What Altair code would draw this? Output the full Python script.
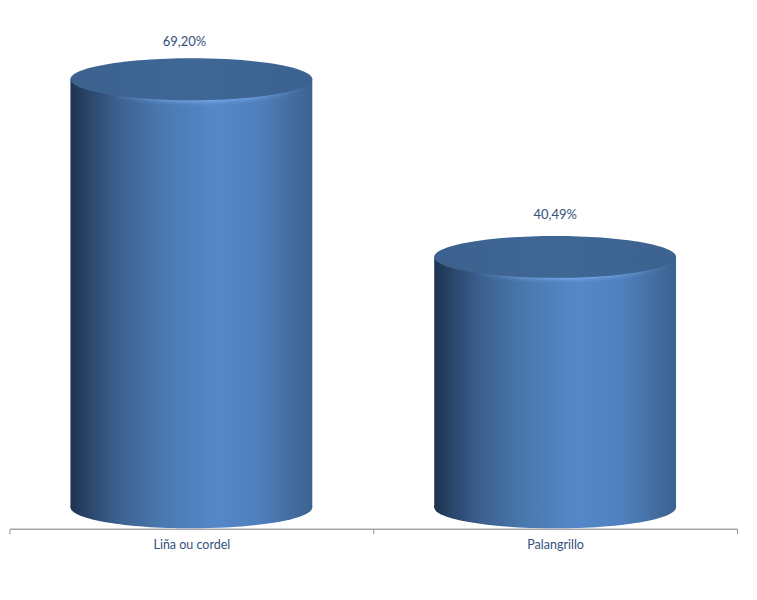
import altair as alt
import pandas as pd

categories = ["Liña ou cordel", "Palangrillo"]
values = [69.20, 40.49]
labels = ["69,20%", "40,49%"]

df = pd.DataFrame({"cat": categories, "val": values, "label": labels, "base": [0, 0]})

BODY = alt.Gradient(
    gradient="linear", x1=0, x2=1, y1=0, y2=0,
    stops=[
        alt.GradientStop(color="#1d3350", offset=0),
        alt.GradientStop(color="#2a4569", offset=0.07),
        alt.GradientStop(color="#3c6190", offset=0.2),
        alt.GradientStop(color="#4a79b0", offset=0.38),
        alt.GradientStop(color="#5588c9", offset=0.6),
        alt.GradientStop(color="#4f80bd", offset=0.78),
        alt.GradientStop(color="#436c9f", offset=0.92),
        alt.GradientStop(color="#3c6290", offset=1),
    ],
)


def glow_fill(alpha):
    return alt.Gradient(
        gradient="linear", x1=0, x2=1, y1=0, y2=0,
        stops=[
            alt.GradientStop(color="rgba(125,175,240,0)", offset=0.15),
            alt.GradientStop(color=f"rgba(125,175,240,{alpha})", offset=0.58),
            alt.GradientStop(color="rgba(125,175,240,0)", offset=0.98),
        ],
    )


TOP = alt.Gradient(
    gradient="linear", x1=0, x2=1, y1=0, y2=0,
    stops=[
        alt.GradientStop(color="#3c618e", offset=0),
        alt.GradientStop(color="#3f6796", offset=0.5),
        alt.GradientStop(color="#3c628f", offset=1),
    ],
)

k = 0.5523
ry = 0.1736
ELLIPSE = (
    f"M-1,0 C-1,{-k*ry} {-k},{-ry} 0,{-ry} C{k},{-ry} 1,{-k*ry} 1,0 "
    f"C1,{k*ry} {k},{ry} 0,{ry} C{-k},{ry} -1,{k*ry} -1,0 Z"
)
SIZE = 242 ** 2

x = alt.X(
    "cat:N", sort=categories, title=None,
    scale=alt.Scale(paddingInner=0, paddingOuter=0),
    axis=alt.Axis(
        labelAngle=0, labelFont="Lato", labelFontSize=12.5, labelColor="#34507a",
        labelPadding=5, tickBand="extent", tickSize=5, tickColor="#8f8f8f",
        domainColor="#a6a6a6", domainWidth=1.5, grid=False,
    ),
)
y = alt.Y(
    "val:Q", title=None, axis=None,
    scale=alt.Scale(domain=[-3.47, 78.75], nice=False, zero=False),
)
yb = alt.Y("base:Q", title=None, axis=None,
           scale=alt.Scale(domain=[-3.47, 78.75], nice=False, zero=False))

base = alt.Chart(df).encode(x=x)

bottom = base.mark_point(shape=ELLIPSE, size=SIZE, filled=True, fill=BODY, opacity=1, strokeWidth=0).encode(y=yb)
body = base.mark_bar(size=242, fill=BODY).encode(y=y, y2=alt.Y2("base:Q"))
glows = [
    base.mark_point(shape=ELLIPSE, size=SIZE, filled=True, fill=glow_fill(a), opacity=1,
                    strokeWidth=0, yOffset=off).encode(y=y)
    for off, a in [(5, 0.12), (3.5, 0.2), (2.2, 0.3), (1, 0.4)]
]
top = base.mark_point(shape=ELLIPSE, size=SIZE, filled=True, fill=TOP, opacity=1, strokeWidth=0).encode(y=y)
text1 = base.transform_filter(alt.datum.val > 50).mark_text(
    font="Lato", fontSize=13, color="#34507a", dy=-37, dx=-7
).encode(y=y, text="label:N")
text2 = base.transform_filter(alt.datum.val < 50).mark_text(
    font="Lato", fontSize=13, color="#34507a", dy=-42
).encode(y=y, text="label:N")

chart = (
    alt.layer(bottom, body, *glows, top, text1, text2)
    .properties(width=728, height=509, padding={"left": 1.5, "top": 12, "right": 12, "bottom": 40},
                autosize=alt.AutoSizeParams(type="none"))
    .configure_view(stroke=None)
)
chart.save("out.html", embed_options={"renderer": "svg", "actions": False})
